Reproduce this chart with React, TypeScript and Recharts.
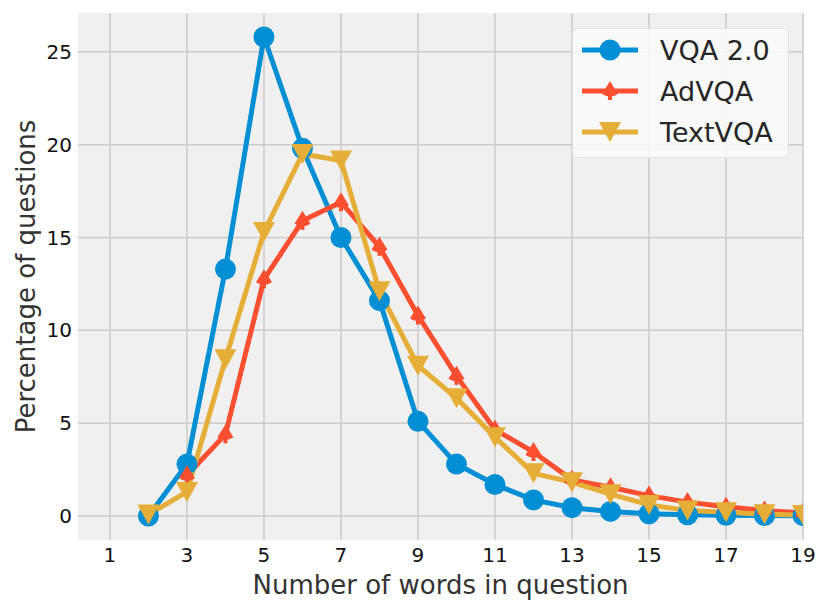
import { LineChart, Line, XAxis, YAxis, CartesianGrid, Label, ReferenceLine } from 'recharts'

const words = [2, 3, 4, 5, 6, 7, 8, 9, 10, 11, 12, 13, 14, 15, 16, 17, 18, 19]
const vqa = [0, 2.8, 13.3, 25.8, 19.8, 15.0, 11.6, 5.1, 2.8, 1.7, 0.87, 0.45, 0.25, 0.12, 0.07, 0.04, 0.03, 0.02]
const advqa = [null, 2.2, 4.4, 12.75, 15.9, 16.9, 14.5, 10.8, 7.55, 4.65, 3.45, 1.95, 1.55, 1.1, 0.75, 0.5, 0.3, 0.16]
const textvqa = [0.08, 1.3, 8.45, 15.3, 19.5, 19.15, 12.1, 8.1, 6.35, 4.25, 2.3, 1.82, 1.18, 0.6, 0.3, 0.2, 0.1, 0.05]

const xTicks = [1, 3, 5, 7, 9, 11, 13, 15, 17, 19]
const yTicks = [0, 5, 10, 15, 20, 25]

const BLUE = '#008fd5'
const RED = '#fc4f30'
const YELLOW = '#e5ae38'
const GRID = '#cbcbcb'
const FONT = '"DejaVu Sans", sans-serif'

const data = words.map((w, i) => ({ words: w, vqa: vqa[i], advqa: advqa[i], textvqa: textvqa[i] }))

const series = [
  { key: 'vqa', name: 'VQA 2.0', color: BLUE },
  { key: 'advqa', name: 'AdVQA', color: RED },
  { key: 'textvqa', name: 'TextVQA', color: YELLOW },
]

function CircleDot({ cx, cy, fill }: any) {
  if (cx == null || cy == null) return null
  return <circle cx={cx} cy={cy} r={10.5} fill={fill} />
}

function SpadeDot({ cx, cy, fill }: any) {
  if (cx == null || cy == null) return null
  return (
    <g fill={fill}>
      <path d={`M${cx},${cy - 10} L${cx + 8},${cy + 3} Q${cx},${cy + 8} ${cx - 8},${cy + 3} Z`} />
      <rect x={cx - 2} y={cy + 2} width={4} height={7} />
    </g>
  )
}

function TriDownDot({ cx, cy, fill }: any) {
  if (cx == null || cy == null) return null
  return <path d={`M${cx - 11},${cy - 10} L${cx + 11},${cy - 10} L${cx},${cy + 10} Z`} fill={fill} />
}

const markers: Record<string, (p: any) => any> = {
  vqa: CircleDot,
  advqa: SpadeDot,
  textvqa: TriDownDot,
}

// legend drawn as a plain overlay, so it takes no room from the plot
function LegendBox() {
  const rows = [22, 63, 104]
  return (
    <svg width={218} height={131} style={{ position: 'absolute', left: 572, top: 28 }}>
      <rect x={0.5} y={0.5} width={216} height={129} rx={5} fill="rgba(250,250,250,0.85)" stroke="#e2e2e2" />
      {series.map((s, i) => {
        const M = markers[s.key]
        return (
          <g key={s.key}>
            <line x1={10} x2={66} y1={rows[i]} y2={rows[i]} stroke={s.color} strokeWidth={5} />
            <M cx={38} cy={rows[i]} fill={s.color} />
            <text x={88} y={rows[i]} dy="0.36em" fontSize={27} fontFamily={FONT} fill="#262626">
              {s.name}
            </text>
          </g>
        )
      })}
    </svg>
  )
}

function YTitle({ viewBox }: any) {
  const cy = viewBox.y + viewBox.height / 2
  return (
    <text x={35} y={cy} transform={`rotate(-90, 35, ${cy})`} textAnchor="middle" fontSize={26} fontFamily={FONT} fill="#333">
      Percentage of questions
    </text>
  )
}

export default function App() {
  return (
    <div style={{ position: 'absolute', left: 0, top: 0, width: 830, height: 613, background: '#fff' }}>
      <LineChart width={830} height={613} data={data} margin={{ top: 13, right: 27, bottom: 0, left: 0 }}>
        <CartesianGrid fill="#f0f0f0" stroke="none" horizontal={false} vertical={false} />
        {xTicks.map((t) => (
          <ReferenceLine key={`gx${t}`} x={t} stroke={GRID} strokeWidth={1.5} />
        ))}
        {yTicks.map((t) => (
          <ReferenceLine key={`gy${t}`} y={t} stroke={GRID} strokeWidth={1.5} />
        ))}
        <XAxis
          dataKey="words"
          type="number"
          domain={[0.17, 19]}
          allowDataOverflow
          ticks={xTicks}
          height={73}
          axisLine={false}
          tickLine={false}
          tickSize={6}
          tickMargin={2}
          tick={{ fontSize: 20, fontFamily: FONT, fill: '#111' }}
        >
          <Label value="Number of words in question" position="insideBottom" offset={19} fontSize={26} fontFamily={FONT} fill="#333" />
        </XAxis>
        <YAxis
          type="number"
          domain={[-1.29, 27.09]}
          allowDataOverflow
          ticks={yTicks}
          width={78}
          axisLine={false}
          tickLine={false}
          tickSize={6}
          tickMargin={0}
          tick={{ fontSize: 20, fontFamily: FONT, fill: '#111' }}
        >
          <Label content={<YTitle />} />
        </YAxis>
        {series.map((s) => {
          const M = markers[s.key]
          return (
            <Line
              key={s.key}
              dataKey={s.key}
              name={s.name}
              stroke={s.color}
              strokeWidth={5}
              dot={(p: any) => <M key={`${s.key}-${p.index}`} cx={p.cx} cy={p.cy} fill={s.color} />}
              activeDot={false}
              isAnimationActive={false}
              connectNulls={false}
            />
          )
        })}
      </LineChart>
      <LegendBox />
    </div>
  )
}
